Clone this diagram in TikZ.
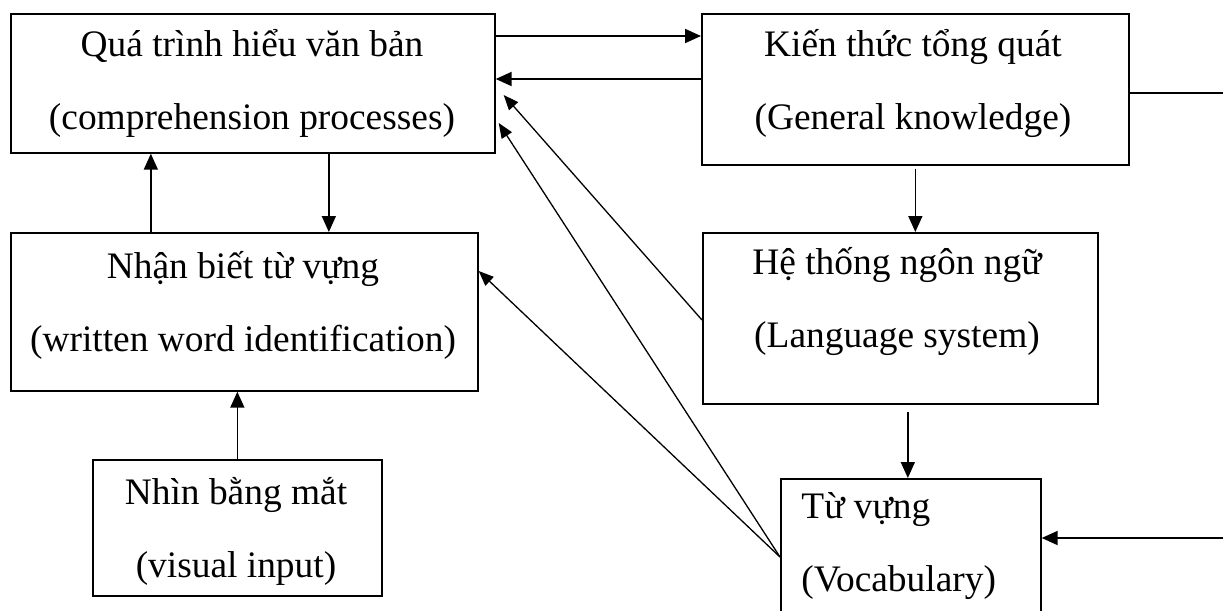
\documentclass[tikz,border=0pt]{standalone}
\usepackage{fontspec}
\setmainfont{Liberation Serif}
\usetikzlibrary{arrows.meta}
\tikzstyle{diagram} = [x = 0.5pt, y = -0.5pt]
\tikzstyle{boxStyle} = [draw, line width=0.85pt, anchor=north west, inner sep=0pt]
\tikzstyle{boxText} = [font=\fontsize{18.7}{36.5}\selectfont, align=center, inner sep=0pt]
\tikzstyle{lineStyle} = [line width=0.8pt]
\tikzstyle{arrowStyle} = [-{Triangle[length=8pt, width=7pt]}, line width=0.95pt]
\tikzstyle{thinArrowStyle} = [-{Triangle[length=7.5pt, width=6pt]}, line width=0.65pt]
\newcommand{\diagramBox}[5]{\node [boxStyle, minimum width=0.5pt*#4, minimum height=0.5pt*#5] (#1) at (#2,#3) {};}

\begin{document}
\begin{tikzpicture}[diagram]
    \useasboundingbox (0,0) rectangle (1223,611);
    % boxes
    \diagramBox{process}{10}{13}{484}{139}
    \diagramBox{general}{701}{13}{427}{151}
    \diagramBox{identify}{10}{232}{467}{158}
    \diagramBox{language}{702}{232}{395}{171}
    \diagramBox{visual}{92}{459}{289}{136}
    \diagramBox{vocab}{780}{478}{260}{160}
    % texts
    \node [boxText] (processText) at (252,83.5) {Quá trình hiểu văn bản\\(comprehension processes)};
    \node [boxText] (generalText) at (913,83.5) {Kiến thức tổng quát\\(General knowledge)};
    \node [boxText] (identifyText) at (243,305) {Nhận biết từ vựng\\(written word identification)};
    \node [boxText] (languageText) at (897,301.5) {Hệ thống ngôn ngữ\\(Language system)};
    \node [boxText] (visualText) at (236,531.5) {Nhìn bằng mắt\\(visual input)};
    \node [boxText, anchor=west, align=left] (vocabText) at (801,546.5) {Từ vựng\\(Vocabulary)};
    % free ends
    \coordinate (rightTop) at (1223,93);
    \coordinate (rightBottom) at (1223,538);
    % helper points
    \coordinate (processOut) at ([yshift=-11.5pt]process.north east);
    \coordinate (generalOut) at ([yshift=-33pt]general.north west);
    \coordinate (processUp) at ([xshift=-51pt]process.south);
    \coordinate (processDown) at ([xshift=38pt]process.south);
    \coordinate (vocabLeft) at ([yshift=-39.5pt]vocab.north west);
    \coordinate (vocabTop) at ([xshift=-1.5pt]vocab.north);
    \coordinate (languageLeft) at ([yshift=-44pt]language.north west);
    % connectors
    \draw [arrowStyle] (processOut) -- (processOut -| general.west);
    \draw [arrowStyle] (generalOut) -- (generalOut -| process.east);
    \draw [lineStyle] (general.east |- rightTop) -- (rightTop);
    \draw [arrowStyle, line width=0.8pt, shorten <=1.5pt] (general.south) -- (general.south |- language.north);
    \draw [arrowStyle, line width=0.8pt, shorten <=3.5pt] (vocabTop |- language.south) -- (vocabTop);
    \draw [arrowStyle] (rightBottom) -- (rightBottom -| vocab.east);
    \draw [arrowStyle, line width=0.8pt] (processUp |- identify.north) -- (processUp);
    \draw [arrowStyle, line width=0.8pt] (processDown) -- (processDown |- identify.north);
    \draw [arrowStyle, line width=0.8pt] (visual.north) -- (visual.north |- identify.south);
    \draw [thinArrowStyle] (vocabLeft) -- ([yshift=-19.5pt]identify.north east);
    \draw [thinArrowStyle] (vocabLeft) -- ([xshift=1.5pt, yshift=-55pt]process.north east);
    \draw [thinArrowStyle] (languageLeft) -- ([xshift=4pt, yshift=-41pt]process.north east);
\end{tikzpicture}
\end{document}
